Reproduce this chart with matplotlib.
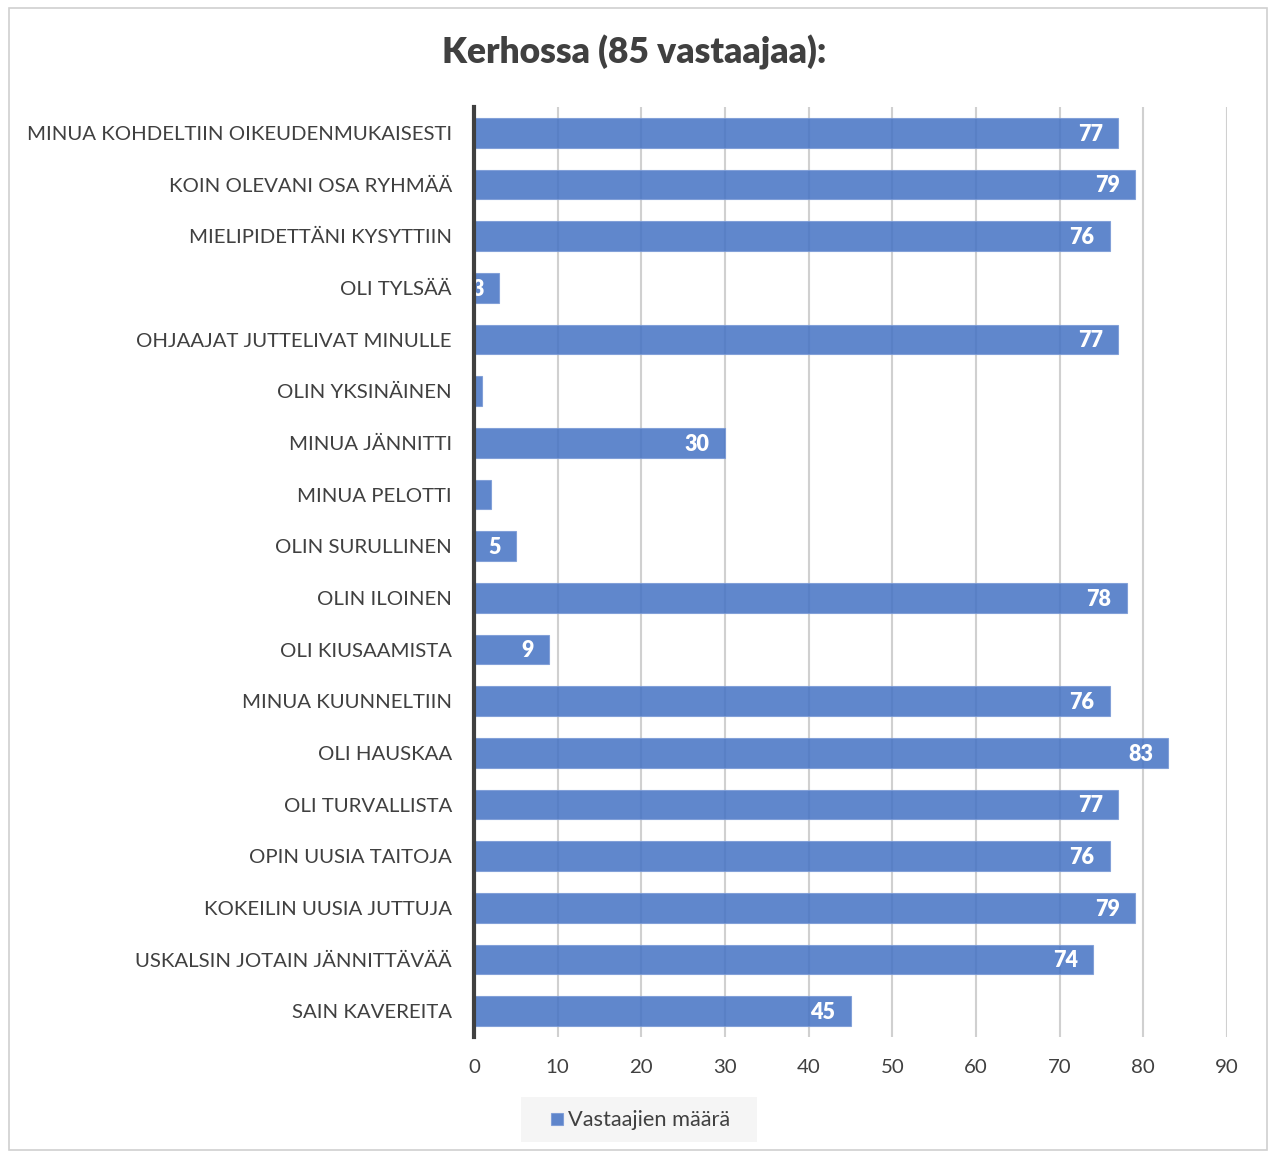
import matplotlib
matplotlib.use("Agg")
import matplotlib.pyplot as plt
from matplotlib.patches import Rectangle

categories = [
    "MINUA KOHDELTIIN OIKEUDENMUKAISESTI",
    "KOIN OLEVANI OSA RYHMÄÄ",
    "MIELIPIDETTÄNI KYSYTTIIN",
    "OLI TYLSÄÄ",
    "OHJAAJAT JUTTELIVAT MINULLE",
    "OLIN YKSINÄINEN",
    "MINUA JÄNNITTI",
    "MINUA PELOTTI",
    "OLIN SURULLINEN",
    "OLIN ILOINEN",
    "OLI KIUSAAMISTA",
    "MINUA KUUNNELTIIN",
    "OLI HAUSKAA",
    "OLI TURVALLISTA",
    "OPIN UUSIA TAITOJA",
    "KOKEILIN UUSIA JUTTUJA",
    "USKALSIN JOTAIN JÄNNITTÄVÄÄ",
    "SAIN KAVEREITA",
]
values = [77, 79, 76, 3, 77, 1, 30, 2, 5, 78, 9, 76, 83, 77, 76, 79, 74, 45]
xticks = [0, 10, 20, 30, 40, 50, 60, 70, 80, 90]
title = "Kerhossa (85 vastaajaa):"
legend_label = "Vastaajien määrä"

FONT = ["Lato", "DejaVu Sans"]
plt.rcParams["font.family"] = FONT
TXT = "#404040"
BAR = "#4472C4"

fig = plt.figure(figsize=(12.68, 11.51), dpi=100)
# outer chart border
fig.patches.append(Rectangle((9/1268, 1-1150/1151), (1267-9)/1268, (1150-8)/1151,
                             transform=fig.transFigure, fill=False,
                             edgecolor="#D0D0D0", linewidth=1.2))

ax = fig.add_axes([474/1268, 1-1037/1151, (1227-474)/1268, (1037-107)/1151])
y = list(range(len(categories)))
ax.barh(y, values, height=0.58, color=BAR, alpha=0.85,
        edgecolor="#7A9AD6", linewidth=0.8, zorder=2)
ax.set_ylim(len(categories) - 0.5, -0.5)
ax.set_xlim(0, 90)
ax.set_xticks(xticks)
ax.set_yticks(y)
ax.set_yticklabels(categories, fontsize=14.7, color=TXT)
ax.tick_params(axis="y", length=0, pad=16)
ax.tick_params(axis="x", length=0, pad=16, labelsize=14.7, labelcolor=TXT)
ax.grid(axis="x", color="#D0D0D0", linewidth=1.5, zorder=0)
ax.set_axisbelow(True)
for s in ["top", "right", "bottom"]:
    ax.spines[s].set_visible(False)
ax.spines["left"].set_color("#404040")
ax.spines["left"].set_linewidth(3)
ax.spines["left"].set_zorder(5)

for yi, v in zip(y, values):
    if v >= 3:
        ax.annotate(str(v), (v, yi), xytext=(-11, -1), textcoords="offset points",
                    ha="right", va="center", color="white", fontsize=15.5,
                    fontweight="heavy", zorder=4)

fig.text(0.5, 1-52/1151, title, ha="center", va="center", fontsize=25.5,
         fontweight="heavy", color=TXT)

# legend
fig.patches.append(Rectangle((521/1268, 1-1142/1151), (757-521)/1268, (1142-1097)/1151,
                             transform=fig.transFigure, facecolor="#F5F5F5",
                             edgecolor="none"))
fig.patches.append(Rectangle((551/1268, 1-1125/1151), 12/1268, 12/1151,
                             transform=fig.transFigure, facecolor=BAR, alpha=0.85,
                             edgecolor="#7A9AD6", linewidth=0.8))
fig.text(568/1268, 1-1120/1151, legend_label, ha="left", va="center",
         fontsize=15.7, color=TXT)

fig.savefig("out.png", dpi=100, facecolor="white")
